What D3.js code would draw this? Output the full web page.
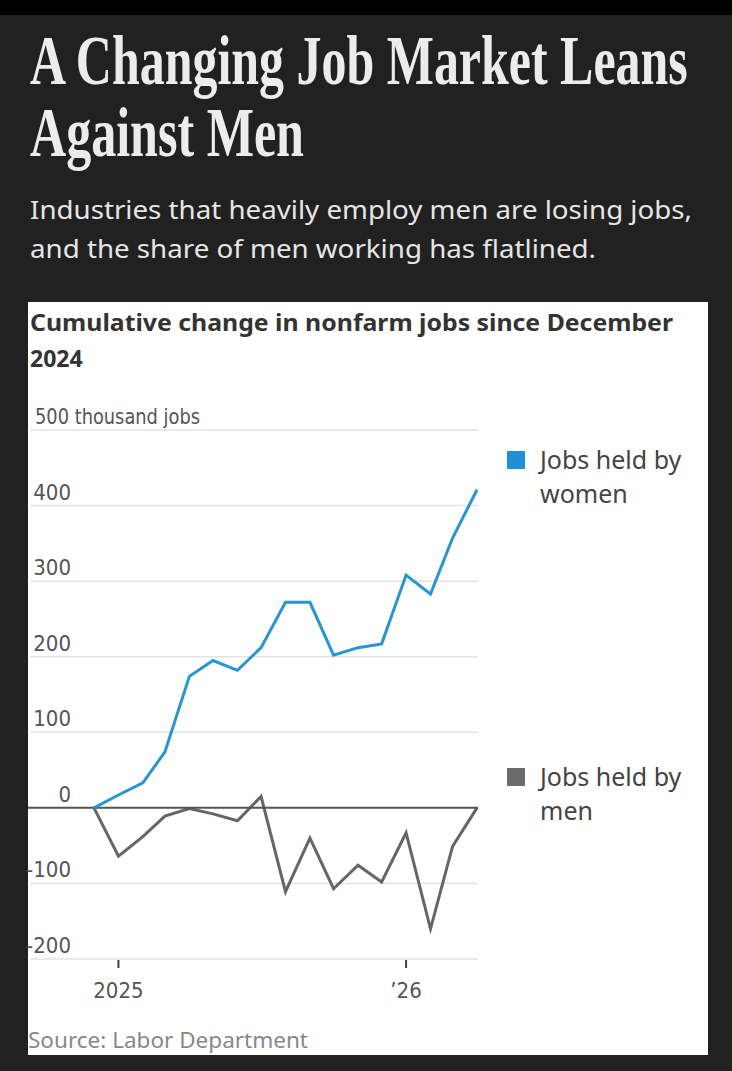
<!DOCTYPE html>
<html lang="en">
<head>
    <meta charset="UTF-8">
    <title>A Changing Job Market Leans Against Men</title>
    <script src="https://d3js.org/d3.v7.min.js"></script>
    <style>
        body { margin: 0; background: #222; }
        svg { display: block; }
    </style>
</head>
<body>
    <div id="chart-container"></div>

    <script>
        // data (thousands of jobs, cumulative since Dec 2024)
        const months = ["2024-12", "2025-01", "2025-02", "2025-03", "2025-04", "2025-05", "2025-06",
            "2025-07", "2025-08", "2025-09", "2025-10", "2025-11", "2025-12",
            "2026-01", "2026-02", "2026-03", "2026-04"];
        const women = [0, 17, 33, 74, 174, 195, 182, 212, 272, 272, 202, 212, 217, 308, 283, 357, 421];
        const men = [0, -64, -38, -11, -1, -8, -17, 15, -111, -40, -107, -76, -98, -33, -160, -51, 0];
        const yTicks = [-200, -100, 0, 100, 200, 300, 400, 500];
        const xTicks = ["2025-01", "2026-01"];
        const xTickLabels = ["2025", "\u201926"];
        const seriesNames = ["Jobs held by women", "Jobs held by men"];

        const W = 732, H = 1071;
        const parse = d3.timeParse("%Y-%m");
        const dates = months.map(parse);

        const svg = d3.select("#chart-container")
            .append("svg")
            .attr("width", W)
            .attr("height", H);

        svg.append("rect").attr("width", W).attr("height", H).attr("fill", "#212121");
        svg.append("rect").attr("width", W).attr("height", 15).attr("fill", "#000");

        const serif = "'Liberation Serif', 'DejaVu Serif', serif";
        const sans = "'Noto Sans', 'Open Sans', sans-serif";
        const narrow = "'Liberation Sans Narrow', 'DejaVu Sans Condensed', 'Roboto', sans-serif";

        // headline: squeeze horizontally to the width of the original condensed face
        const head = [["A Changing Job Market Leans", 84, 658], ["Against Men", 156, 274]];
        head.forEach(h => {
            const g = svg.append("g");
            const t = g.append("text")
                .style("font-family", serif).style("font-weight", "bold")
                .style("font-size", "70px").attr("fill", "#ececec")
                .text(h[0]);
            const sx = h[2] / t.node().getComputedTextLength();
            g.attr("transform", `translate(30,${h[1]}) scale(${sx},1)`);
        });

        const sub = [["Industries that heavily employ men are losing jobs,", 219, 662],
                     ["and the share of men working has flatlined.", 258, 566]];
        sub.forEach(s => {
            svg.append("text")
                .attr("x", 30).attr("y", s[1])
                .attr("textLength", s[2]).attr("lengthAdjust", "spacingAndGlyphs")
                .style("font-family", sans).style("font-size", "25px")
                .attr("fill", "#e6e6e6")
                .text(s[0]);
        });

        // white panel
        svg.append("rect")
            .attr("x", 28).attr("y", 302)
            .attr("width", 680).attr("height", 753)
            .attr("fill", "#fff");

        svg.append("text")
            .attr("x", 30).attr("y", 331)
            .attr("textLength", 643).attr("lengthAdjust", "spacingAndGlyphs")
            .style("font-family", sans).style("font-weight", "bold").style("font-size", "23px")
            .attr("fill", "#333")
            .text("Cumulative change in nonfarm jobs since December");
        svg.append("text")
            .attr("x", 30).attr("y", 367)
            .style("font-family", sans).style("font-weight", "bold").style("font-size", "23px")
            .attr("fill", "#333")
            .text("2024");

        const x = d3.scaleTime()
            .domain([dates[0], dates[dates.length - 1]])
            .range([94, 477]);
        const y = d3.scaleLinear()
            .domain([-200, 500])
            .range([959, 430]);

        // gridlines + y labels
        const grid = svg.append("g");
        grid.selectAll("line")
            .data(yTicks.filter(d => d !== 0))
            .join("line")
            .attr("x1", 30).attr("x2", 478)
            .attr("y1", d => y(d)).attr("y2", d => y(d))
            .attr("stroke", "#e2e2e2").attr("stroke-width", 1.5);

        grid.selectAll("text")
            .data(yTicks)
            .join("text")
            .attr("x", 71)
            .attr("y", d => y(d) - 6)
            .attr("text-anchor", "end")
            .style("font-family", narrow).style("font-size", "22px")
            .attr("fill", "#555")
            .text(d => d === 500 ? "" : String(d));

        svg.append("text")
            .attr("x", 35).attr("y", y(500) - 6)
            .attr("textLength", 165).attr("lengthAdjust", "spacingAndGlyphs")
            .style("font-family", narrow).style("font-size", "22px")
            .attr("fill", "#555")
            .text("500 thousand jobs");

        // x axis ticks
        const xg = svg.append("g");
        xg.selectAll("line")
            .data(xTicks)
            .join("line")
            .attr("x1", d => x(parse(d))).attr("x2", d => x(parse(d)))
            .attr("y1", 960).attr("y2", 968)
            .attr("stroke", "#444").attr("stroke-width", 2);
        xg.selectAll("text")
            .data(xTicks)
            .join("text")
            .attr("x", d => x(parse(d)))
            .attr("y", 998)
            .attr("text-anchor", "middle")
            .style("font-family", narrow).style("font-size", "22px")
            .attr("fill", "#555")
            .text((d, i) => xTickLabels[i]);

        const line = d3.line()
            .x((d, i) => x(dates[i]))
            .y(d => y(d));

        svg.append("path")
            .datum(men)
            .attr("d", line)
            .attr("fill", "none")
            .attr("stroke", "#666")
            .attr("stroke-width", 3)
            .attr("stroke-linejoin", "miter");

        // zero line
        svg.append("line")
            .attr("x1", 28).attr("x2", 478)
            .attr("y1", y(0)).attr("y2", y(0))
            .attr("stroke", "#555").attr("stroke-width", 2);

        svg.append("path")
            .datum(women)
            .attr("d", line)
            .attr("fill", "none")
            .attr("stroke", "#2795d2")
            .attr("stroke-width", 3)
            .attr("stroke-linejoin", "miter");

        // legend
        const legend = [
            { name: seriesNames[0], color: "#1f8fd6", y: 451 },
            { name: seriesNames[1], color: "#6b6b6b", y: 768 }
        ];
        legend.forEach(l => {
            svg.append("rect")
                .attr("x", 507).attr("y", l.y)
                .attr("width", 18).attr("height", 18)
                .attr("fill", l.color);
            const words = l.name.split(" ");
            svg.append("text")
                .attr("x", 540).attr("y", l.y + 18)
                .style("font-family", sans).style("font-size", "25px")
                .attr("fill", "#444")
                .text(words.slice(0, 3).join(" "));
            svg.append("text")
                .attr("x", 540).attr("y", l.y + 52)
                .style("font-family", sans).style("font-size", "25px")
                .attr("fill", "#444")
                .text(words.slice(3).join(" "));
        });

        svg.append("text")
            .attr("x", 28).attr("y", 1048)
            .attr("textLength", 280).attr("lengthAdjust", "spacingAndGlyphs")
            .style("font-family", sans).style("font-size", "22px")
            .attr("fill", "#888")
            .text("Source: Labor Department");
    </script>
</body>
</html>
